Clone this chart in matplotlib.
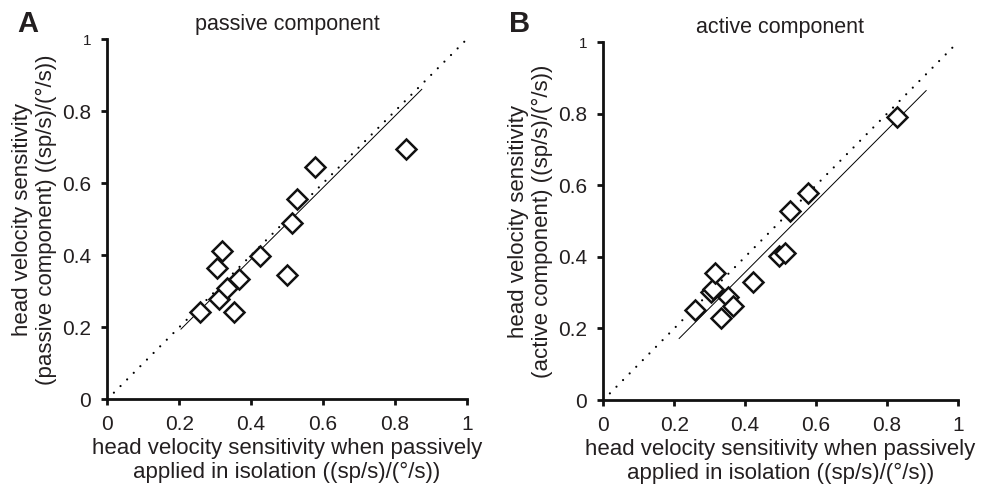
import matplotlib
matplotlib.use("Agg")
import matplotlib.pyplot as plt
import numpy as np

plt.rcParams['font.family'] = ['Liberation Sans', 'DejaVu Sans']

# Panel A: passive component
a_x = [0.258, 0.311, 0.304, 0.318, 0.333, 0.366, 0.353, 0.425, 0.499, 0.513, 0.528, 0.578, 0.831]
a_y = [0.243, 0.278, 0.366, 0.413, 0.310, 0.334, 0.242, 0.399, 0.345, 0.489, 0.556, 0.644, 0.694]
a_fit_x = [0.205, 0.875]
a_fit_y = [0.195, 0.861]

# Panel B: active component
b_x = [0.259, 0.304, 0.310, 0.315, 0.332, 0.351, 0.365, 0.423, 0.496, 0.513, 0.527, 0.579, 0.830]
b_y = [0.253, 0.303, 0.309, 0.354, 0.230, 0.289, 0.263, 0.329, 0.403, 0.412, 0.527, 0.580, 0.790]
b_fit_x = [0.214, 0.911]
b_fit_y = [0.172, 0.865]

identity = [0, 1]
ticks = [0, 0.2, 0.4, 0.6, 0.8, 1]
tick_labels = ['0', '0.2', '0.4', '0.6', '0.8', '1']

titles = ['passive component', 'active component']
letters = ['A', 'B']
ylabels = ['head velocity sensitivity\n(passive component) ((sp/s)/(°/s))',
           'head velocity sensitivity\n(active component) ((sp/s)/(°/s))']
xlabel = 'head velocity sensitivity when passively\napplied in isolation ((sp/s)/(°/s))'

TXT = '#231f20'
W, H = 981, 490
fig = plt.figure(figsize=(W / 100, H / 100), dpi=100)

rects = [[107.3 / W, 1 - 399.3 / H, (466.7 - 107.3) / W, (399.3 - 39.3) / H],
         [603.3 / W, 1 - 400 / H, (957.7 - 603.3) / W, (400 - 42.3) / H]]
data = [(a_x, a_y, a_fit_x, a_fit_y), (b_x, b_y, b_fit_x, b_fit_y)]
letter_x = [17 / W, 509 / W]

for i in range(2):
    ax = fig.add_axes(rects[i])
    xs, ys, fx, fy = data[i]
    ax.plot(identity, identity, color='black', lw=1.6, dashes=(0.01, 4.2),
            dash_capstyle='round', clip_on=False)
    ax.plot(fx, fy, color='black', lw=0.7)
    ax.plot(xs, ys, linestyle='none', marker='D', markersize=10.5,
            markerfacecolor='white', markeredgecolor='#111111', markeredgewidth=1.8,
            clip_on=False, zorder=5)
    ax.set_xlim(0, 1)
    ax.set_ylim(0, 1)
    for s in ['top', 'right']:
        ax.spines[s].set_visible(False)
    for s in ['left', 'bottom']:
        ax.spines[s].set_linewidth(2.0)
        ax.spines[s].set_color('#111111')
    ax.set_xticks(ticks)
    ax.set_xticklabels(tick_labels)
    ax.set_yticks(ticks)
    ylabs = ax.set_yticklabels(tick_labels)
    ax.tick_params(direction='out', length=4, width=2.0, color='#111111',
                   labelsize=15, labelcolor=TXT)
    ax.tick_params(axis='x', pad=7.5)
    ax.tick_params(axis='y', pad=7.5)
    ylabs[-1].set_fontsize(11)
    ax.set_xlabel(xlabel, fontsize=16, color=TXT, labelpad=3, linespacing=1.15)
    ax.set_ylabel(ylabels[i], fontsize=16, color=TXT, labelpad=4, linespacing=1.15)
    ax.set_title(titles[i], fontsize=15.5, color=TXT, pad=7)
    fig.text(letter_x[i], 1 - 32 / H, letters[i], fontsize=21, fontweight='bold',
             color=TXT)

fig.savefig('out.png', dpi=100)
